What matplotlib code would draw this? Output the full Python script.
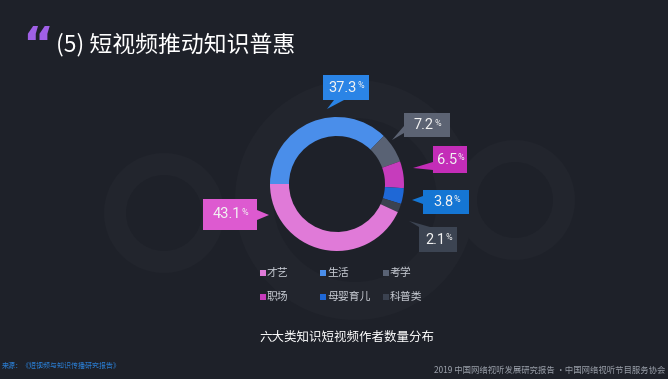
import matplotlib
matplotlib.use("Agg")
import matplotlib.pyplot as plt
from matplotlib.patches import Wedge, Rectangle, Polygon

plt.rcParams['font.family'] = ['Noto Sans CJK SC', 'DejaVu Sans']

categories = ['生活', '考学', '职场', '母婴育儿', '科普类', '才艺']
values = [37.3, 7.2, 6.5, 3.8, 2.1, 43.1]
ring_colors = ['#4a8eea', '#596274', '#c63cbc', '#1f68d6', '#3b4250', '#e07ad8']
box_colors = ['#2a84e6', '#5c6373', '#c42db8', '#1576d4', '#3c4452', '#dd5ad0']
legend_order = ['才艺', '生活', '考学', '职场', '母婴育儿', '科普类']

title = '(5) 短视频推动知识普惠'
subtitle = '六大类知识短视频作者数量分布'
source = '来源：《短视频与知识传播研究报告》'
footer = '2019 中国网络视听发展研究报告 ·中国网络视听节目服务协会'

W, H = 668, 379
BG = '#1e2129'

def Y(y):
    return H - y

fig = plt.figure(figsize=(W / 100, H / 100), dpi=100, facecolor=BG)
ax = fig.add_axes([0, 0, 1, 1])
ax.set_facecolor(BG)
ax.set_xlim(0, W)
ax.set_ylim(0, H)

# decorative faint rings
for (rx, ry, r, w) in [(164, 213, 60, 22), (515, 200, 60, 22), (355, 200, 120, 38)]:
    ax.add_patch(Wedge((rx, Y(ry)), r, 0, 360, width=w, facecolor='#22252d',
                       edgecolor='none', zorder=0))

# donut
cx, cy, R = 337, 184, 67
ax.pie(values, colors=ring_colors, center=(cx, Y(cy)), radius=R, startangle=180,
       counterclock=False, wedgeprops=dict(width=19, edgecolor='none'))
ax.set_xlim(0, W)
ax.set_ylim(0, H)
ax.set_aspect('equal')
ax.axis('off')

renderer = fig.canvas.get_renderer()

# label boxes: (x0, y0, x1, y1, pointer polygon)
boxes = [
    (323, 75, 369, 100, [(334, 100), (344, 100), (327, 109)]),
    (404, 113, 450, 137, [(404, 126), (404, 133), (392, 140)]),
    (433, 146, 467, 173, [(433, 162), (433, 170), (413, 168)]),
    (423, 190, 469, 214, [(423, 196), (423, 204), (412, 200)]),
    (419, 227, 457, 252, [(419, 227), (430, 227), (409, 221)]),
    (203, 199, 257, 230, [(257, 210), (257, 220), (269, 215)]),
]
for (x0, y0, x1, y1, tri), v, c in zip(boxes, values, box_colors):
    ax.add_patch(Rectangle((x0, Y(y1)), x1 - x0, y1 - y0, facecolor=c,
                           edgecolor='none', zorder=3))
    ax.add_patch(Polygon([(px, Y(py)) for px, py in tri], closed=True,
                         facecolor=c, edgecolor='none', zorder=3))
    xm = (x0 + x1) / 2 - 3
    ym = (y0 + y1) / 2
    t = ax.text(xm, Y(ym), f'{v}', color='#f2f2f2', fontsize=10.5,
                family=['Roboto', 'DejaVu Sans'], ha='center', va='center',
                zorder=4)
    bb = t.get_window_extent(renderer=renderer)
    right = ax.transData.inverted().transform((bb.x1, bb.y1))
    ax.text(right[0] + 0.3, right[1] - 0.5, '%', color='#f2f2f2', fontsize=6.5,
            family=['Roboto', 'DejaVu Sans'], ha='left', va='top', zorder=4)

# legend
cols = [263, 323, 386]
rows = [273, 297]
for i, name in enumerate(legend_order):
    idx = categories.index(name)
    lx = cols[i % 3]
    ly = rows[i // 3]
    ax.add_patch(Rectangle((lx - 3, Y(ly) - 3), 6, 6, facecolor=ring_colors[idx],
                           edgecolor='none'))
    ax.text(lx + 4, Y(ly), name, color='#c8ccd4', fontsize=7.8, ha='left',
            va='center')

# title
ax.text(22, Y(48), '“', color='#a060e6', fontsize=34, fontweight='bold',
        ha='left', va='center', family=['DejaVu Sans'])
ax.text(56, Y(44), title, color='#ffffff', fontsize=16.5, fontweight='medium',
        ha='left', va='center')

ax.text(347, Y(337), subtitle, color='#ffffff', fontsize=9, ha='center',
        va='center')
ax.text(2, Y(366), source, color='#2a7fd6', fontsize=5, ha='left', va='center')
ax.text(665, Y(370), footer, color='#9aa0aa', fontsize=6, ha='right',
        va='center')

fig.savefig('out.png', dpi=100, facecolor=BG)
